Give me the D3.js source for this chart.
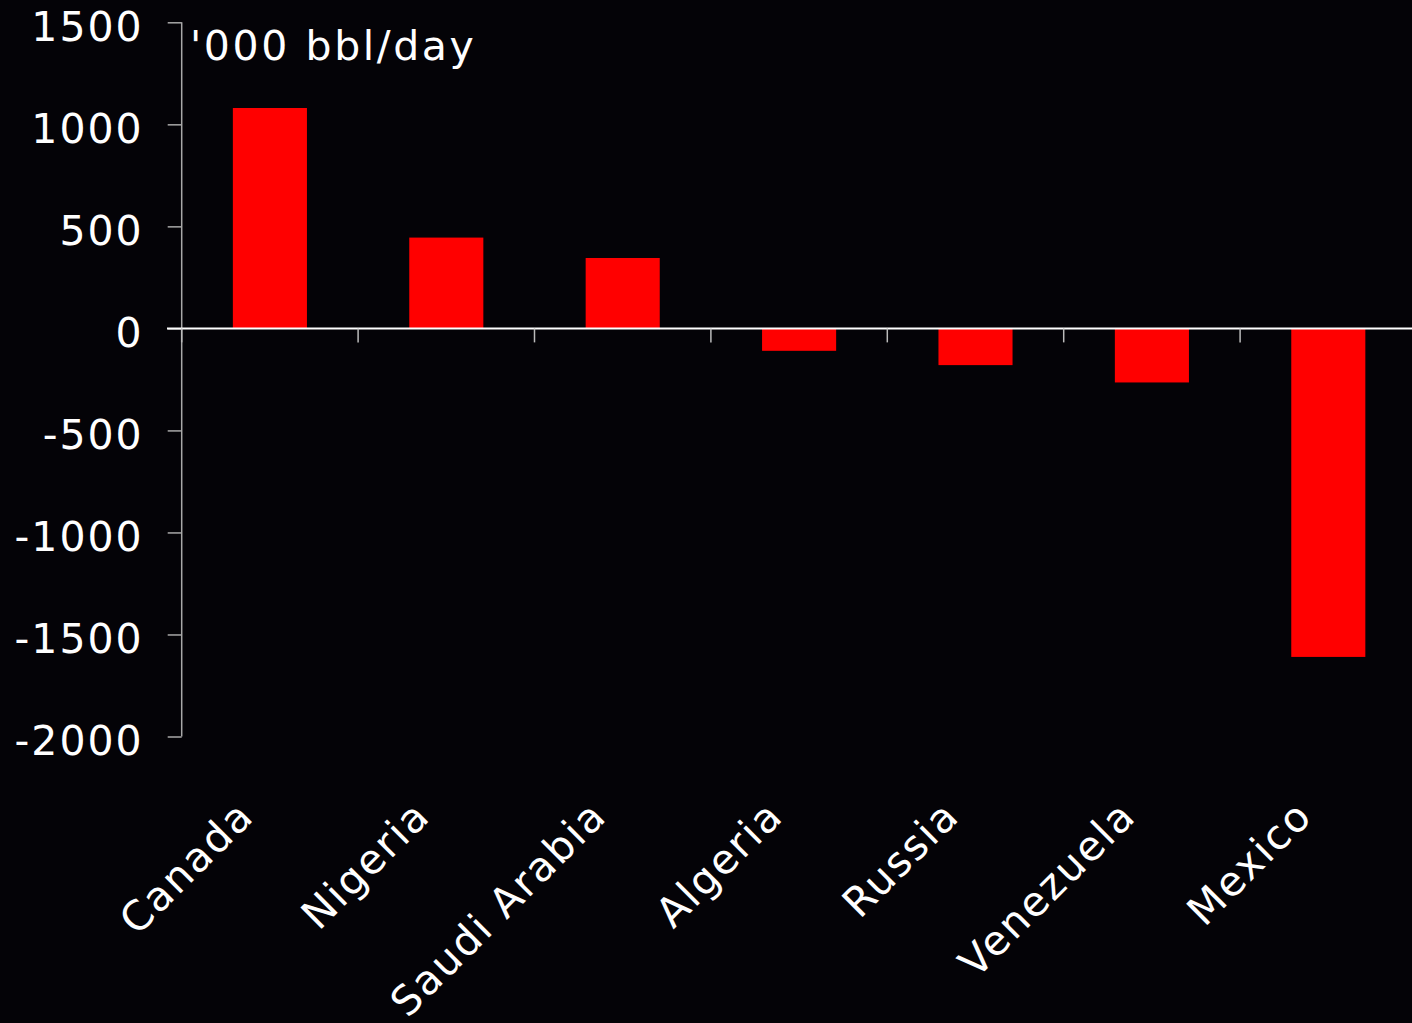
<!DOCTYPE html>
<html><head><meta charset="utf-8">
<script src="https://cdn.jsdelivr.net/npm/d3@7"></script>
<style>
html,body{margin:0;padding:0;background:#040307;}
svg{display:block;}
text{font-family:"DejaVu Sans",sans-serif;fill:#fff;}
</style></head>
<body><svg id="c" width="1412" height="1023"></svg>
<script>
const categories = ["Canada","Nigeria","Saudi Arabia","Algeria","Russia","Venezuela","Mexico"];
const values = [1080, 445, 345, -110, -180, -265, -1610];
const yTicks = [1500, 1000, 500, 0, -500, -1000, -1500, -2000];
const unitLabel = "'000 bbl/day";

const svg = d3.select("#c");
svg.append("rect").attr("width",1412).attr("height",1023).attr("fill","#040307");

const y = d3.scaleLinear().domain([-2000,1500]).range([736.5,22.3]);
const x = d3.scaleBand().domain(categories).range([181.7,1416.5]).padding(0);
const bw = x.bandwidth();

// bars
svg.selectAll("rect.bar").data(values).enter().append("rect")
  .attr("class","bar")
  .attr("x",(d,i)=>x(categories[i]) + bw*0.29)
  .attr("width",bw*0.42)
  .attr("y",d=>y(Math.max(0,d)))
  .attr("height",d=>Math.abs(y(d)-y(0)))
  .attr("fill","#ff0000");

// y axis
const yAxis = d3.axisLeft(y).tickValues(yTicks).tickSize(14).tickPadding(24).tickFormat(d=>d3.format("d")(d).replace("−","-"));
const gy = svg.append("g").attr("transform","translate(181.7,0)").call(yAxis);
gy.select(".domain").attr("stroke","#a8a8a8").attr("stroke-width",1.5).attr("d","M0,"+y(1500)+"V"+y(-2000));
gy.selectAll(".tick line").attr("stroke","#a8a8a8").attr("stroke-width",1.5);
gy.selectAll(".tick text").attr("fill","#fff").attr("font-size",41).attr("font-family","DejaVu Sans")
  .attr("letter-spacing","2px").attr("dy","0.45em");

// zero line
svg.append("line").attr("x1",167).attr("x2",1412).attr("y1",y(0)).attr("y2",y(0)).attr("stroke","#fff").attr("stroke-width",2);

// category boundary ticks
const bounds = categories.map(c=>x(c));
svg.selectAll("line.xt").data(bounds).enter().append("line")
  .attr("x1",d=>d).attr("x2",d=>d).attr("y1",y(0)).attr("y2",y(0)+14)
  .attr("stroke","#bbb").attr("stroke-width",1.5);

// category labels
svg.selectAll("text.cat").data(categories).enter().append("text")
  .attr("class","cat")
  .attr("text-anchor","end")
  .attr("font-size",41)
  .attr("letter-spacing","2px")
  .attr("transform",c=>"translate("+(x(c)+bw/2-14)+",818) rotate(-45)")
  .text(c=>c);

// unit label
svg.append("text").attr("x",190).attr("y",60).attr("font-size",41).attr("letter-spacing","2.6px").text(unitLabel);
</script></body></html>
